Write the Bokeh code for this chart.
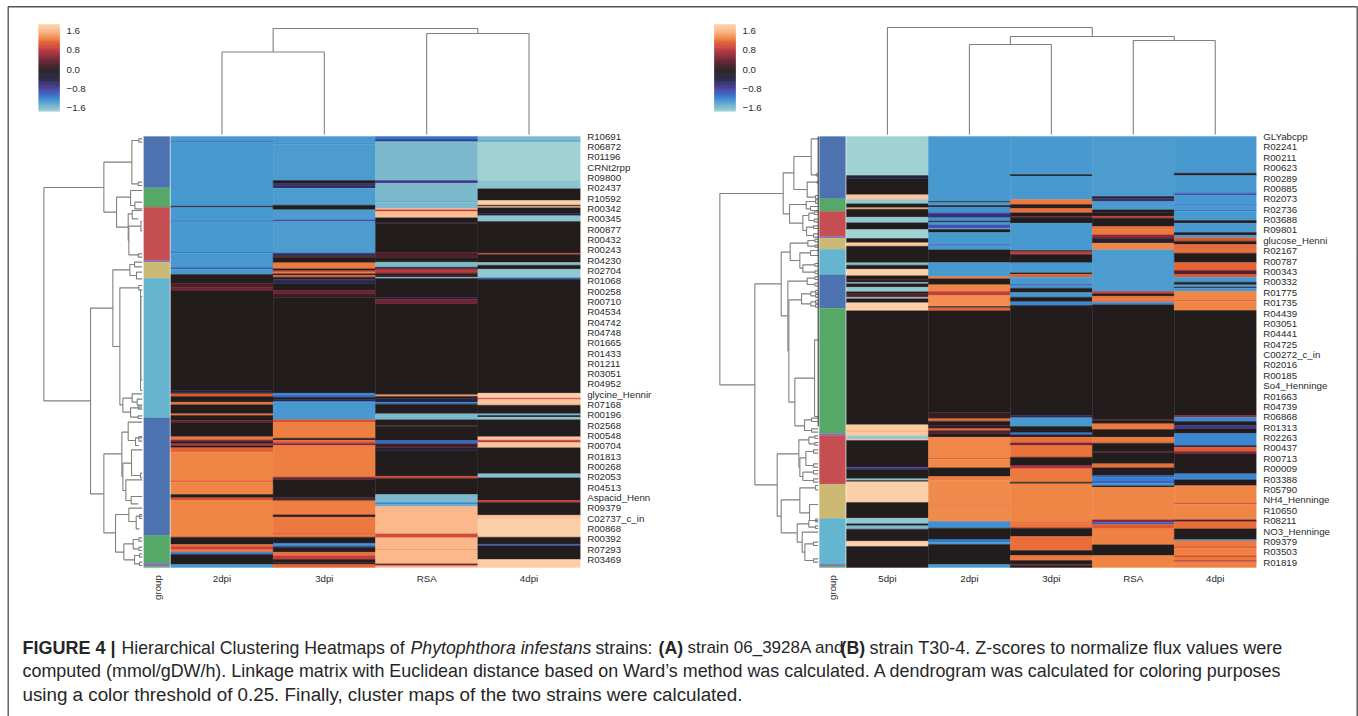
from bokeh.core.properties import value
from bokeh.embed import file_html
from bokeh.models import ColumnDataSource, LinearColorMapper, Range1d
from bokeh.plotting import figure
from bokeh.resources import INLINE
import numpy as np

# ---------- colour scale ----------
CBAR_TICKS = [1.6, 0.8, 0.0, -0.8, -1.6]
CBAR_LABELS = ["1.6", "0.8", "0.0", "\u22120.8", "\u22121.6"]
Z_LOW, Z_HIGH = -1.72, 1.85
CMAP_STOPS = [
    (-1.72, "#a0d2d4"), (-1.55, "#7db9cc"), (-1.3, "#4899cf"), (-1.1, "#2f74cf"),
    (-0.8, "#463fa0"), (-0.4, "#232345"), (0.0, "#231c1c"), (0.4, "#6b1f30"),
    (0.8, "#b7303f"), (1.1, "#e0572f"), (1.3, "#f08545"), (1.6, "#fbb88a"), (1.85, "#fdcfa8"),
]

# ---------- panel A ----------
A_COLUMNS = ["2dpi", "3dpi", "RSA", "4dpi"]
A_LABELS = ["R10691", "R06872", "R01196", "CRNt2rpp", "R09800", "R02437", "R10592", "R00342", "R00345",
            "R00877", "R00432", "R00243", "R04230", "R02704", "R01068", "R00258", "R00710", "R04534",
            "R04742", "R04748", "R01665", "R01433", "R01211", "R03051", "R04952", "glycine_Hennir",
            "R07168", "R00196", "R02568", "R00548", "R00704", "R01813", "R00268", "R02053", "R04513",
            "Aspacid_Henn", "R09379", "C02737_c_in", "R00868", "R00392", "R07293", "R03469"]
A_2DPI = [(15,-1.3),(18,-0.95),(209,-1.3),(213,-0.1),(254,-1.3),(258,-1.1),(345,-1.3),(350,-1.15),(379,-1.3),
          (382,-1.15),(393,-1.3),(398,-0.95),(414,-1.3),(442,0.02),(454,0.25),(462,0.45),(762,0),(769,-0.3),(772,0),
          (780,1.1),(797,0),(805,1.2),(832,0),(837,1.2),(852,0),(857,0.45),(901,0),(910,1.25),(915,0.6),(922,0),
          (928,0.8),(934,0),(947,1.15),(1032,1.3),(1037,1.15),(1074,1.3),(1084,0),(1092,1.05),(1202,1.3),(1224,0),
          (1230,1.2),(1240,0.95),(1247,1.25),(1254,-1.1),(1284,0),(1293,-1.3)]
A_3DPI = [(18,-1.3),(24,-1.25),(132,-1.32),(142,0),(147,-0.6),(155,-0.5),(206,-1.32),(220,0),(250,-1.32),(255,-0.9),
          (350,-1.32),(358,-0.5),(360,0),(363,0.3),(379,0),(397,1.25),(403,0),(407,1.05),(412,1.2),(416,0),(422,1.15),
          (428,0),(440,-0.5),(462,0),(472,0.4),(482,0.15),(770,0),(775,-1.15),(782,-1.1),(788,-0.1),(794,-0.3),
          (798,-1.1),(850,-1.3),(858,1.05),(905,1.27),(911,0),(917,1.2),(921,0.9),(927,0.6),(1022,1.27),(1030,0.4),
          (1084,0),(1088,0.3),(1093,0),(1135,1.27),(1142,0.1),(1190,1.25),(1195,1.1),(1202,1.27),(1220,0),(1224,-1.1),
          (1230,-1.2),(1234,-0.5),(1247,-0.05),(1258,1.2),(1269,0.9),(1279,0),(1284,0.1),(1293,1.15)]
A_RSA = [(9,-1.1),(14,-0.6),(17,-1.3),(132,-1.55),(140,-0.7),(192,-1.55),(197,-1.45),(216,-1.55),(220,1.6),(225,0.9),
         (244,1.65),(257,0),(260,-0.2),(349,0),(363,0.25),(377,0),(392,-1.55),(397,0),(400,0.4),(410,0.85),(422,0.1),
         (426,-1.5),(482,0),(489,-0.3),(502,0.45),(775,0),(780,1.4),(785,0),(797,-0.3),(803,-1.15),(832,0),(850,-1.55),
         (867,0),(870,0.2),(912,0),(922,-1.05),(934,0.2),(942,-0.3),(1019,0),(1026,0.95),(1074,0),(1098,-1.55),
         (1104,-1.2),(1110,-1.45),(1192,1.6),(1204,1.0),(1237,1.6),(1242,1.45),(1282,1.6),(1288,0.5),(1293,1.6)]
A_4DPI = [(10,-1.55),(17,-1.45),(132,-1.72),(157,-1.62),(192,0),(206,1.85),(210,0),(214,1.7),(232,0),(238,-0.4),
          (255,-1.62),(350,0),(354,0.95),(378,0),(386,-1.6),(398,0),(424,-1.65),(428,-1.05),(770,0),(785,1.85),(789,0.9),
          (806,1.75),(832,0),(837,-1.5),(842,0),(850,-1.65),(901,0),(911,1.75),(918,0.85),(934,1.75),(1012,0),(1024,-1.6),
          (1092,0),(1098,0.95),(1136,0),(1148,1.72),(1202,1.85),(1223,0),(1228,-0.9),(1269,0),(1293,1.85)]
A_GROUP = [(154,"#4c72b0"),(212,"#55a868"),(372,"#c44e52"),(377,"#8172b2"),(425,"#ccb974"),(844,"#64b5cd"),
           (1197,"#4c72b0"),(1280,"#55a868"),(1290,"#8172b2"),(1293,"#55a868")]
# merge distance, row of upper child, row of lower child, distance of upper child, distance of lower child
A_ROW_LINKS = [(295,153,793,115,155),(115,77,227,31,77),(31,12,142,10,12),(10,7,17,0,0),(12,137,147,0,0),(77,182,272,35,42),
               (35,162,207,0,22),(22,197,217,0,0),(42,232,312,30,40),(30,222,247,0,12),(40,269,355,4,12),(12,352,362,0,0),
               (4,255,283,0,0),(155,515,1072,88,115),(88,400,630,37,67),(37,384,417,23,17),(23,377,391,0,0),(17,407,427,0,0),
               (67,454,805,10,58),(10,447,461,0,5),(5,460,762,0,0),(4,480,730,0,0),(58,785,827,30,35),(30,772,797,0,15),(15,788,806,0,0),
               (35,814,842,0,12),(115,952,1189,61,80),(61,887,1020,42,58),(42,857,912,0,20),(20,904,927,0,10),(10,900,914,0,0),
               (58,980,1062,32,49),(32,940,1017,0,5),(5,1010,1024,0,0),(49,1030,1092,0,33),(33,1080,1102,0,12),(80,1134,1247,40,55),
               (40,1115,1155,0,18),(18,1139,1177,0,8),(8,1134,1146,0,0),(55,1222,1270,27,23),(27,1209,1237,10,10),(23,1257,1282,8,8),
               (10,1232,1242,0,0),(10,1204,1214,0,0),(8,1252,1262,0,0),(8,1277,1287,0,0),(12,808,818,0,0),(12,838,846,0,0)]
A_COL_LINKS = [(82.5,0.5,1.5,0,0),(101,2.5,3.5,0,0),(106,1.0,3.0,82.5,101)]

# ---------- panel B ----------
B_COLUMNS = ["5dpi", "2dpi", "3dpi", "RSA", "4dpi"]
B_LABELS = ["GLYabcpp", "R02241", "R00211", "R00623", "R00289", "R00885", "R02073", "R02736", "R03688", "R09801",
            "glucose_Henni", "R02167", "R00787", "R00343", "R00332", "R01775", "R01735", "R04439", "R03051", "R04441",
            "R04725", "C00272_c_in", "R02016", "R00185", "So4_Henninge", "R01663", "R04739", "R06868", "R01313", "R02263",
            "R00437", "R00713", "R00009", "R03388", "R05790", "NH4_Henninge", "R10650", "R08211", "NO3_Henninge", "R09379",
            "R03503", "R01819"]
B_5DPI = [(117,-1.72),(127,-0.4),(175,0),(189,1.75),(202,-1.65),(214,0),(218,1.6),(242,0),(259,-1.65),(279,0),(306,-1.72),
          (319,0),(329,1.8),(379,0),(386,-1.6),(398,0),(418,1.85),(429,0),(438,0.1),(442,-1.6),(452,0),(466,-1.65),(472,0),
          (482,0.3),(487,-1.6),(499,0),(512,1.85),(515,1.7),(523,1.85),(865,0),(880,1.8),(888,1.6),(898,1.75),(908,-1.65),
          (912,1.6),(992,0),(998,-0.8),(1027,0),(1032,-1.6),(1036,0),(1098,1.85),(1145,0),(1162,-1.65),(1168,0),(1178,-1.55),
          (1214,0),(1230,1.85),(1293,0)]
B_2DPI = [(195,-1.3),(198,0),(207,-1.3),(212,0),(230,-1.25),(244,-0.6),(254,-1.25),(258,0),(265,-1.3),(275,-0.9),(279,-1.3),
          (288,0),(324,-1.3),(328,-1.0),(340,-1.3),(378,0),(420,-1.3),(427,1.25),(445,0),(465,1.3),(477,0.9),(510,1.35),(514,0),
          (523,1.15),(827,0),(847,0.1),(854,1.2),(867,0),(877,0.1),(882,1.2),(892,0.3),(902,0),(964,1.32),(968,1.15),(994,1.32),
          (1020,0),(1032,1.27),(1108,1.33),(1110,1.15),(1155,1.33),(1175,-1.25),(1209,0),(1217,-1.1),(1224,-1.3),(1284,0),(1293,-1.3)]
B_3DPI = [(114,-1.3),(119,0),(189,-1.3),(204,1.25),(216,0.05),(229,1.2),(240,0),(243,0.4),(260,0),(342,-1.3),(346,0),(354,0.9),
          (379,0),(409,-1.3),(413,0),(422,1.15),(444,-1.3),(448,-0.9),(455,-1.3),(468,0),(482,-1.3),(496,0),(507,-1.2),(837,0),
          (844,-0.5),(870,-1.3),(889,0),(895,-1.1),(902,0),(919,1.2),(927,0.5),(962,1.22),(988,0),(997,0.8),(1037,1.25),(1042,0),
          (1157,1.3),(1162,1.15),(1169,1.25),(1175,1.15),(1200,0),(1242,1.2),(1257,0),(1272,1.25),(1283,0),(1286,0.5),(1293,0)]
B_RSA = [(180,-1.32),(185,0),(195,-0.6),(220,-1.32),(228,-0.1),(239,0),(245,0.9),(270,0),(280,1.2),(295,1.25),(305,0.6),(320,-0.2),
         (340,1.3),(465,-1.32),(472,0.9),(479,0),(487,1.2),(497,1.25),(505,-1.2),(850,0),(853,0.3),(862,0),(879,1.25),(902,0),
         (920,1.25),(944,0),(947,0.3),(982,0),(994,1.2),(1017,0),(1022,-1.0),(1032,-1.15),(1040,-1.0),(1048,-1.25),(1052,0),
         (1150,1.3),(1157,0.6),(1164,-1.0),(1177,1.1),(1225,1.28),(1257,0),(1293,1.3)]
B_4DPI = [(110,-1.3),(117,0),(170,-1.3),(177,-0.9),(204,-1.3),(208,-1.1),(220,-1.3),(225,-1.15),(252,-1.3),(260,0),(288,-1.3),
          (296,0),(304,-1.3),(314,1.1),(324,0),(332,1.2),(337,1.1),(350,1.2),(378,0),(402,1.15),(414,0.3),(422,1.1),(437,-1.3),
          (445,0),(452,-1.3),(455,0),(465,-1.3),(492,1.3),(494,1.05),(522,1.3),(837,0),(842,0.6),(855,-1.2),(867,0),(877,-0.7),
          (891,0),(927,-1.2),(932,-0.4),(945,1.1),(952,0.5),(1012,0),(1030,-1.2),(1047,0),(1050,1.15),(1100,1.3),(1103,0.95),
          (1150,1.3),(1156,0.3),(1177,1.2),(1209,0),(1213,-1.2),(1232,1.25),(1235,1.0),(1257,1.28),(1264,1.05),(1272,1.25),
          (1276,0.8),(1293,1.28)]
B_GROUP = [(187,"#4c72b0"),(225,"#55a868"),(300,"#c44e52"),(305,"#8172b2"),(338,"#ccb974"),(415,"#64b5cd"),(515,"#4c72b0"),
           (891,"#55a868"),(897,"#8172b2"),(1043,"#c44e52"),(1146,"#ccb974"),(1283,"#64b5cd"),(1290,"#8172b2"),(1293,"#55a868")]
B_ROW_LINKS = [(295,171,745,105,190),(105,109,232,73,86),(73,60,159,21,33),(21,7,115,0,6),(6,112,118,0,0),(33,137,182,3,8),
               (3,134,140,0,0),(8,177,187,0,0),(86,204,260,36,46),(36,195,217,8,23),(8,190,200,0,0),(23,210,222,0,0),(46,237,282,28,35),
               (28,230,252,12,12),(35,272,297,14,14),(12,226,234,0,0),(12,248,256,0,0),(14,268,276,0,0),(14,292,302,0,0),
               (190,442,1045,111,123),(111,347,538,84,91),(84,320,372,31,55),(31,312,329,10,10),(10,308,316,0,0),(10,326,332,0,0),
               (55,349,395,23,46),(23,342,357,0,0),(46,385,407,10,10),(10,381,389,0,0),(10,403,411,0,0),(91,434,643,33,88),
               (33,425,444,10,10),(10,421,429,0,0),(10,440,448,0,0),(88,490,797,50,70),(50,472,502,22,22),(22,466,478,8,8),(22,496,508,8,8),
               (8,462,470,0,0),(8,474,482,0,0),(8,492,500,0,0),(8,504,512,0,0),(70,725,868,11,41),(11,610,840,0,0),(41,850,882,20,20),
               (20,845,855,0,0),(20,877,887,0,0),(123,952,1139,58,111),(58,910,992,28,55),(28,902,922,10,10),(10,898,906,0,0),(10,918,926,0,0),
               (55,964,1020,37,46),(37,945,987,14,14),(14,940,950,0,0),(14,982,992,0,0),(46,1007,1032,14,14),(14,1002,1012,0,0),(14,1027,1037,0,0),
               (111,1090,1189,55,63),(55,1054,1129,8,26),(8,1047,1060,0,0),(26,1104,1152,0,0),(63,1162,1217,28,48),(28,1152,1172,8,8),
               (8,1148,1156,0,0),(8,1168,1176,0,0),(48,1187,1247,0,40),(40,1222,1272,14,14),(14,1217,1227,0,0),(14,1267,1277,0,0)]
B_COL_LINKS = [(90,1.5,2.5,0,0),(94,3.5,4.5,0,0),(98,2.0,4.0,90,94),(107,0.5,3.0,0,98)]
B_LEAF_RULE = [0, 870]

CAPTION = [
    (1, "bold",   "FIGURE 4 |"),
    (1, "normal", "Hierarchical Clustering Heatmaps of"),
    (1, "italic", "Phytophthora infestans"),
    (1, "normal", "strains:"),
    (1, "bold",   "(A)"),
    (1, "normal", "strain 06_3928A and"),
    (1, "bold",   "(B)"),
    (1, "normal", "strain T30-4. Z-scores to normalize flux values were"),
    (2, "normal", "computed (mmol/gDW/h). Linkage matrix with Euclidean distance based on Ward\u2019s method was calculated. A dendrogram was calculated for coloring purposes"),
    (3, "normal", "using a color threshold of 0.25. Finally, cluster maps of the two strains were calculated."),
]

# ---------- layout (pixels in the page) ----------
W, H = 1358, 716
X0, Y0 = 0, 0
ROWS = 1293
HEAT_TOP, HEAT_BOTTOM = 136, 567
PANELS = {
    "a": dict(heat=(170.3, 579.7), strip=(143.3, 169.3), dend=141.7, cbar=(38.3, 59), cbar_label=66, label_x=586.7, label_y=(135.7, 559), group_x=156.5),
    "b": dict(heat=(846, 1255.7), strip=(819, 845), dend=817.7, cbar=(714, 735), cbar_label=742, label_x=1262.7, label_y=(136, 561.7), group_x=832),
}
TEXT = "#2a2a2a"
LINE = "#808080"
FONT = value("Liberation Sans")
SMALL = "9.7px"


def span_x(px0, px1, lo, hi):
    """x range over the frame such that lo..hi falls on page pixels px0..px1."""
    k = (hi - lo) / (px1 - px0)
    return Range1d(lo + (X0 - px0) * k, lo + (X0 + W - px0) * k)


def span_y(px0, px1, lo, hi):
    """y range over the frame (start = bottom of the frame) with lo..hi on page pixels px0..px1."""
    k = (hi - lo) / (px1 - px0)
    return Range1d(lo + (Y0 + H - px0) * k, lo + (Y0 - px0) * k)


p = figure(width=W, height=H, x_range=(X0, X0 + W), y_range=(Y0 + H, Y0), toolbar_location=None, tools="",
           output_backend="svg", min_border=0, x_axis_location=None, y_axis_location=None)
p.grid.visible = False
p.outline_line_color = None
p.background_fill_color = "white"

mapper = LinearColorMapper(
    palette=["#%02x%02x%02x" % tuple(int(round(np.interp(z, [s[0] for s in CMAP_STOPS],
                                                         [int(s[1][1 + 2 * i:3 + 2 * i], 16) for s in CMAP_STOPS])))
                                     for i in range(3))
             for z in np.linspace(Z_LOW, Z_HIGH, 512)],
    low=Z_LOW, high=Z_HIGH)


def draw_links(links, xr, yr, horizontal_rows):
    xs, ys = [], []
    for d, a, b, da, db in links:
        if horizontal_rows:          # rows run down, distance runs left
            xs.append([da, d, d, db]); ys.append([a, a, b, b])
        else:                        # columns run across, distance runs up
            xs.append([a, a, b, b]); ys.append([da, d, d, db])
    p.multi_line(xs, ys, x_range_name=xr, y_range_name=yr, line_color=LINE, line_width=1.1)


def draw_panel(key, columns, col_bands, group, labels, row_links, col_links):
    cfg = PANELS[key]
    n = len(columns)
    heat_x, heat_y = f"{key}_col", f"{key}_row"
    p.extra_x_ranges[heat_x] = span_x(*cfg["heat"], 0, n)
    p.extra_y_ranges[heat_y] = span_y(HEAT_TOP, HEAT_BOTTOM, 0, ROWS)
    p.extra_x_ranges[f"{key}_strip"] = span_x(*cfg["strip"], 0, 1)
    p.extra_x_ranges[f"{key}_dist"] = span_x(cfg["dend"], cfg["dend"] - 100, 0, 300)
    p.extra_y_ranges[f"{key}_cdist"] = span_y(134, 34, 0, 100)
    p.extra_y_ranges[f"{key}_z"] = span_y(69, 107.9, 0, -1.6)
    p.extra_x_ranges[f"{key}_cb"] = span_x(*cfg["cbar"], 0, 1)

    # heat bands
    left, right, top, bottom, zv = [], [], [], [], []
    for c, bands in enumerate(col_bands):
        start = 0
        for end, z in bands:
            left.append(c); right.append(c + 1); top.append(start); bottom.append(end); zv.append(z)
            start = end
    src = ColumnDataSource(dict(left=left, right=right, top=top, bottom=bottom, z=zv))
    tr = {"field": "z", "transform": mapper}
    p.quad(left="left", right="right", top="top", bottom="bottom", source=src, fill_color=tr, line_color=tr,
           line_width=0.4, x_range_name=heat_x, y_range_name=heat_y)

    # group strip
    top, bottom, col = [], [], []
    start = 0
    for end, c in group:
        top.append(start); bottom.append(end); col.append(c)
        start = end
    p.quad(left=0, right=1, top=top, bottom=bottom, fill_color=col, line_color=col, line_width=0.3,
           x_range_name=f"{key}_strip", y_range_name=heat_y)

    # dendrograms
    draw_links(row_links, f"{key}_dist", heat_y, True)
    draw_links(col_links, heat_x, f"{key}_cdist", False)

    # colour bar
    edges = np.linspace(Z_LOW, Z_HIGH, 120)
    cb = ColumnDataSource(dict(lo=edges[:-1], hi=edges[1:], z=(edges[:-1] + edges[1:]) / 2))
    p.quad(left=0, right=1, bottom="lo", top="hi", source=cb, fill_color=tr, line_color=tr, line_width=0.4,
           x_range_name=f"{key}_cb", y_range_name=f"{key}_z")
    p.text(x=[cfg["cbar_label"]] * len(CBAR_TICKS), y=CBAR_TICKS, text=CBAR_LABELS, y_range_name=f"{key}_z",
           text_font=FONT, text_font_size=SMALL, text_baseline="middle", text_color=TEXT)

    # texts
    ys = np.linspace(cfg["label_y"][0], cfg["label_y"][1], len(labels))
    p.text(x=[cfg["label_x"]] * len(labels), y=ys, text=labels, text_font=FONT, text_font_size=SMALL,
           text_baseline="middle", text_color=TEXT)
    p.text(x=[c + 0.5 for c in range(n)], y=[577.5] * n, text=columns, x_range_name=heat_x, text_font=FONT,
           text_font_size=SMALL, text_align="center", text_baseline="middle", text_color=TEXT)
    p.text(x=[cfg["group_x"]], y=[587], text=["group"], angle=np.pi / 2, text_font=FONT, text_font_size=SMALL,
           text_align="center", text_baseline="middle", text_color=TEXT)


draw_panel("a", A_COLUMNS, [A_2DPI, A_3DPI, A_RSA, A_4DPI], A_GROUP, A_LABELS, A_ROW_LINKS, A_COL_LINKS)
draw_panel("b", B_COLUMNS, [B_5DPI, B_2DPI, B_3DPI, B_RSA, B_4DPI], B_GROUP, B_LABELS, B_ROW_LINKS, B_COL_LINKS)
p.line(x=[0, 0], y=B_LEAF_RULE, x_range_name="b_dist", y_range_name="b_row", line_color="#222222", line_width=1)

# frame of the figure
p.line(x=[7.7, 7.7, 1356.7, 1356.7], y=[716, 6.3, 6.3, 716], line_color="#555555", line_width=1.4)

# caption: (x, size) of each run
CAP_RUNS = {1: [(22, 18), (121, 17.7), (410, 17.7), (595, 17.7), (658, 17.7), (687, 17), (840, 17.7), (869, 18)],
            2: [(22, 17.9)], 3: [(22, 18.8)]}
CAP_Y = {1: 647, 2: 670, 3: 694}
seen = {1: 0, 2: 0, 3: 0}
for line, style, txt in CAPTION:
    x, size = CAP_RUNS[line][seen[line]]
    seen[line] += 1
    p.text(x=[x], y=[CAP_Y[line]], text=[txt], text_font=FONT, text_font_size=f"{size}px", text_font_style=style,
           text_baseline="middle", text_color="#262626")

open("out.html", "w").write(file_html(p, INLINE))
